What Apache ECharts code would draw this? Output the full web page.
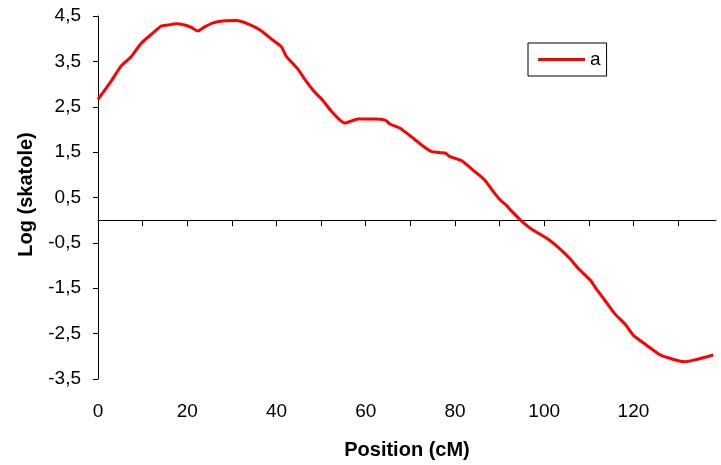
<!DOCTYPE html>
<html>
<head>
<meta charset="utf-8">
<script src="https://cdn.jsdelivr.net/npm/echarts@6/dist/echarts.min.js"></script>
<style>
  html, body { margin: 0; padding: 0; background: #fff; }
  #chart { width: 721px; height: 465px; }
</style>
</head>
<body>
<div id="chart"></div>
<script>
// QTL profile: position along the chromosome (cM) vs log(skatole)
const positions = [0, 3.0, 5.2, 7.5, 9.7, 12.0, 14.2, 15.7, 17.5, 19.4, 20.9, 22.4, 23.9, 25.8,
  28.0, 31.0, 34.0, 36.3, 38.9, 41.1, 42.2, 44.8, 46.3, 48.6, 50.4, 52.3, 55.3, 58.3, 62.0,
  64.5, 65.4, 67.6, 70.6, 72.9, 74.8, 77.8, 78.9, 81.5, 84.1, 86.7, 88.6, 90.1, 91.6, 92.7,
  94.5, 97.2, 100.9, 103.5, 105.8, 107.6, 110.3, 111.8, 114.0, 115.9, 118.1, 120.0, 123.0,
  126.0, 129.0, 131.5, 134.1, 137.9];
const logSkatole = [2.66, 3.07, 3.40, 3.61, 3.90, 4.10, 4.28, 4.30, 4.33, 4.30, 4.25, 4.17, 4.26, 4.35,
  4.39, 4.40, 4.31, 4.19, 3.99, 3.82, 3.61, 3.33, 3.11, 2.82, 2.64, 2.40, 2.14, 2.23, 2.23,
  2.20, 2.12, 2.03, 1.81, 1.63, 1.51, 1.48, 1.40, 1.31, 1.10, 0.88, 0.63, 0.45, 0.32, 0.20,
  0.02, -0.20, -0.42, -0.63, -0.85, -1.06, -1.32, -1.53, -1.82, -2.07, -2.29, -2.54, -2.76,
  -2.97, -3.07, -3.12, -3.07, -2.97];
const seriesName = 'a';
const xLabelValues = [0, 20, 40, 60, 80, 100, 120];
const xTickValues = [0, 10, 20, 30, 40, 50, 60, 70, 80, 90, 100, 110, 120, 130];
const yTickValues = [-3.5, -2.5, -1.5, -0.5, 0.5, 1.5, 2.5, 3.5, 4.5];

const FONT = '"Liberation Sans", Arial, sans-serif';
const points = positions.map((p, i) => [p, logSkatole[i]]);
const comma = v => v.toFixed(1).replace('.', ',');

const chart = echarts.init(document.getElementById('chart'), null, { renderer: 'canvas' });
chart.setOption({
  animation: false,
  backgroundColor: '#ffffff',
  grid: { left: 98, right: 5, top: 16, bottom: 81, containLabel: false },
  legend: {
    show: true,
    left: 528,
    top: 43,
    orient: 'vertical',
    borderColor: '#000',
    borderWidth: 1,
    borderRadius: 0,
    padding: [7, 6, 7, 10],
    itemWidth: 47,
    itemHeight: 14,
    itemGap: 6,
    textStyle: { fontFamily: FONT, fontSize: 19, color: '#000' },
    data: [{ name: seriesName, icon: 'path://M0,0 L16,0 L16,1 L0,1 Z' }]
  },
  xAxis: [
    {
      // bottom labels and title
      type: 'value', min: 0, max: 138.5, interval: 20,
      position: 'bottom',
      axisLine: { show: false, onZero: false },
      axisTick: { show: false },
      splitLine: { show: false },
      axisLabel: {
        customValues: xLabelValues,
        margin: 23,
        fontFamily: FONT, fontSize: 19, color: '#000'
      },
      name: 'Position (cM)',
      nameLocation: 'middle',
      nameGap: 61,
      nameTextStyle: { fontFamily: FONT, fontSize: 20, fontWeight: 'bold', color: '#000' }
    },
    {
      // axis line crossing at zero, with downward ticks
      type: 'value', min: 0, max: 138.5, interval: 10,
      position: 'bottom',
      axisLine: { show: true, onZero: true, lineStyle: { color: '#000', width: 1 } },
      axisTick: { show: true, customValues: xTickValues, length: 6, lineStyle: { color: '#000', width: 1 } },
      axisLabel: { show: false },
      splitLine: { show: false }
    }
  ],
  yAxis: {
    type: 'value', min: -3.5, max: 4.5, interval: 1,
    axisLine: { show: true, onZero: false, lineStyle: { color: '#000', width: 1 } },
    axisTick: { show: true, customValues: yTickValues, length: 5, lineStyle: { color: '#000', width: 1 } },
    splitLine: { show: false },
    axisLabel: {
      customValues: yTickValues,
      margin: 17,
      formatter: v => comma(v),
      fontFamily: FONT, fontSize: 19, color: '#000'
    },
    name: 'Log (skatole)',
    nameLocation: 'middle',
    nameGap: 62,
    nameRotate: 90,
    nameTextStyle: { fontFamily: FONT, fontSize: 20, fontWeight: 'bold', color: '#000', padding: [0, 0, 0, 6] }
  },
  series: [{
    name: seriesName,
    type: 'line',
    xAxisIndex: 0,
    yAxisIndex: 0,
    data: points,
    showSymbol: false,
    symbol: 'none',
    smooth: 0.2,
    lineStyle: { color: '#ff0000', width: 3 },
    itemStyle: { color: '#ff0000' }
  }]
});
</script>
</body>
</html>
